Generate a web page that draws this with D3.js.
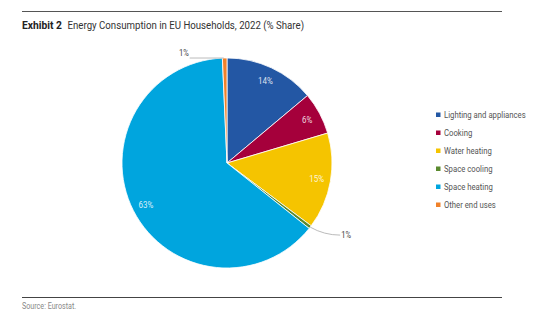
<!DOCTYPE html>
<html><head><meta charset="utf-8">
<script src="https://cdn.jsdelivr.net/npm/d3@7"></script>
<style>
body{margin:0;background:#fff;}
svg{display:block;font-family:"Roboto","Liberation Sans",sans-serif;}
</style></head>
<body><svg id="c" width="560" height="326"></svg>
<script>
const categories = ["Lighting and appliances","Cooking","Water heating","Space cooling","Space heating","Other end uses"];
const values = [13.9, 6.5, 14.8, 0.5, 63.6, 0.7];
const labels = ["14%","6%","15%","1%","63%","1%"];
const colors = ["#2357a4","#a5003b","#f5c400","#5a8a2e","#00a5de","#f0812a"];

const svg = d3.select("#c");
const cx = 227, cy = 163, R = 105;

svg.append("line").attr("x1",22).attr("x2",502).attr("y1",11.5).attr("y2",11.5).attr("stroke","#555").attr("stroke-width",1);
const tb = svg.append("text").attr("x",22).attr("y",29).attr("font-size",11.5).attr("font-weight","bold").attr("fill","#222").text("Exhibit 2");
const tt = svg.append("text").attr("x",67.5).attr("y",29).attr("font-size",11.5).attr("fill","#333").text("Energy Consumption in EU Households, 2022 (% Share)");

svg.append("line").attr("x1",22).attr("x2",502).attr("y1",297.5).attr("y2",297.5).attr("stroke","#444").attr("stroke-width",1);
svg.append("text").attr("x",22).attr("y",309).attr("font-size",8.5).attr("fill","#888").text("Source: Eurostat.");

const pie = d3.pie().sort(null).value(d=>d)(values);
const arc = d3.arc().innerRadius(0).outerRadius(R);
const labArc = d3.arc().innerRadius(91).outerRadius(91);
const g = svg.append("g").attr("transform",`translate(${cx},${cy})`);
g.selectAll("path").data(pie).join("path")
  .attr("d",arc).attr("fill",(d,i)=>colors[i])
  .attr("stroke","#fff").attr("stroke-width",0.8);

g.selectAll("text.in").data(pie.filter(d=>d.data>=5)).join("text")
  .attr("class","in")
  .attr("transform",d=>`translate(${labArc.centroid(d)})`)
  .attr("x",0)
  .attr("text-anchor","middle").attr("dy","0.35em")
  .attr("font-size",9.5).attr("fill","#fff").attr("fill-opacity",0.85)
  .text(d=>labels[d.index]);

const small = pie.filter(d=>d.data<5);
small.forEach(d=>{
  const a = (d.startAngle+d.endAngle)/2;
  const px = R*Math.sin(a), py = -R*Math.cos(a);
  if (py < 0) {
    g.append("path").attr("d",`M${px-1},${py} L${px-35},${py}`)
      .attr("stroke","#aaa").attr("stroke-width",0.8).attr("fill","none");
    g.append("text").attr("x",px-36).attr("y",py-2).attr("text-anchor","end")
      .attr("font-size",9).attr("fill","#444").text(labels[d.index]);
  } else {
    g.append("path").attr("d",`M${px},${py} Q${px+14},${py+8} ${px+30},${py+8}`)
      .attr("stroke","#aaa").attr("stroke-width",0.8).attr("fill","none");
    g.append("text").attr("x",px+31).attr("y",py+11).attr("text-anchor","start")
      .attr("font-size",9).attr("fill","#444").text(labels[d.index]);
  }
});

const lg = svg.append("g").attr("transform","translate(436,115)");
categories.forEach((c,i)=>{
  const row = lg.append("g").attr("transform",`translate(0,${i*18})`);
  row.append("rect").attr("x",0).attr("y",-2.5).attr("width",4.5).attr("height",4.5).attr("fill",colors[i]);
  row.append("text").attr("x",8).attr("y",0).attr("dy","0.35em").attr("font-size",9.2).attr("fill","#555").text(c);
});

// condense text to mimic a condensed typeface
function condense(el, f){
  const x = +el.attr("x") || 0;
  const prev = el.attr("transform") || "";
  el.attr("transform", `${prev} translate(${x*(1-f)},0) scale(${f},1)`);
}
const f = 237 / tt.node().getComputedTextLength();
const fb = 40 / tb.node().getComputedTextLength();
svg.selectAll("text").each(function(){
  condense(d3.select(this), this === tb.node() ? fb : f);
});
</script></body></html>
